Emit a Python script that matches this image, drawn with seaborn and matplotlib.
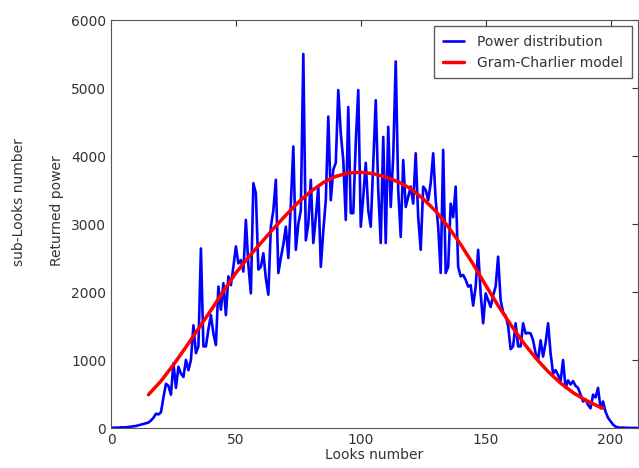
import numpy as np
import pandas as pd
import seaborn as sns
import matplotlib.pyplot as plt

# blue series: returned power per look
power = [0, 5, 5, 5, 10, 10, 10, 15, 20, 25,
         30, 40, 50, 60, 70, 80, 110, 150, 210, 200,
         230, 450, 650, 620, 490, 950, 590, 900, 800, 750,
         1000, 850, 1000, 1510, 1100, 1200, 2640, 1200, 1200, 1450,
         1660, 1390, 1220, 2080, 1740, 2130, 1660, 2230, 2100, 2370,
         2670, 2420, 2470, 2300, 3060, 2400, 1980, 3600, 3450, 2330,
         2370, 2570, 2200, 1960, 2960, 3200, 3650, 2280, 2500, 2700,
         2960, 2500, 3300, 4140, 2620, 3000, 3200, 5500, 2760, 3000,
         3650, 2720, 3100, 3550, 2370, 2900, 3350, 4580, 3350, 3800,
         3900, 4970, 4330, 3940, 3060, 4720, 3160, 3160, 4200, 4970,
         2960, 3400, 3900, 3200, 2960, 3900, 4820, 3500, 2720, 4280,
         2720, 4430, 3250, 4000, 5390, 3500, 2810, 3940, 3250, 3400,
         3550, 3300, 4040, 3100, 2620, 3550, 3500, 3350, 3600, 4040,
         3350, 2960, 2280, 4090, 2280, 2370, 3300, 3100, 3550, 2370,
         2230, 2250, 2180, 2080, 2100, 1800, 2080, 2620, 1980, 1540,
         1980, 1880, 1780, 1950, 2080, 2520, 1880, 1700, 1650, 1500,
         1160, 1200, 1540, 1200, 1200, 1540, 1390, 1400, 1390, 1290,
         1100, 1000, 1290, 1050, 1250, 1540, 1100, 800, 850, 780,
         690, 1000, 590, 700, 640, 690, 620, 590, 490, 390,
         420, 340, 290, 490, 450, 590, 290, 390, 240, 150,
         100, 50, 20, 10, 5, 5, 3, 2, 1, 1,
         0, 0]
looks = list(range(len(power)))

# red series: Gram-Charlier model
model_x = [15, 20, 25, 30, 35, 40, 45, 50, 55, 60, 65, 70, 75, 80, 85, 90, 95,
           100, 105, 110, 115, 120, 125, 130, 135, 140, 145, 150, 155, 160,
           165, 170, 175, 180, 185, 190, 195, 197]
model_y = [490, 690, 930, 1190, 1460, 1730, 2010, 2280, 2510, 2720, 2930, 3130,
           3320, 3480, 3610, 3700, 3750, 3760, 3740, 3690, 3620, 3520, 3370,
           3190, 2960, 2700, 2410, 2100, 1800, 1520, 1260, 1030, 830, 660,
           520, 410, 320, 290]

obs = pd.DataFrame({"look": looks, "power": power})
mod = pd.DataFrame({"look": model_x, "power": model_y})

sns.set_style("white")
plt.rcParams.update({
    "xtick.direction": "in", "ytick.direction": "in",
    "xtick.top": True, "ytick.right": True,
    "xtick.major.size": 4, "ytick.major.size": 4,
    "font.family": ["DejaVu Sans"],
})
txt = "#333333"
fs = 10

fig = plt.figure(figsize=(6.39, 4.68), dpi=100)
ax = fig.add_axes([111 / 639, 1 - 428 / 468, (638 - 111) / 639, (428 - 20) / 468])

sns.lineplot(data=obs, x="look", y="power", color="#0000ff", lw=1.9,
             label="Power distribution", ax=ax)
sns.lineplot(data=mod, x="look", y="power", color="#ff0000", lw=2.5,
             label="Gram-Charlier model", ax=ax)

ax.set_xlim(0, 211)
ax.set_ylim(0, 6000)
ax.set_xticks([0, 50, 100, 150, 200])
ax.set_yticks(range(0, 6001, 1000))
ax.tick_params(labelsize=fs, colors=txt, labelcolor=txt)
for s in ax.spines.values():
    s.set_color("#555555")
ax.set_xlabel("Looks number", fontsize=fs, color=txt, labelpad=1)
ax.set_ylabel("")
fig.text(57 / 639, 1 - 211 / 468, "Returned power", rotation=90,
         ha="center", va="center", fontsize=fs, color=txt)
fig.text(19 / 639, 1 - 202 / 468, "sub-Looks number", rotation=90,
         ha="center", va="center", fontsize=fs, color=txt)

leg = ax.legend(loc="upper right", fontsize=fs, frameon=True, fancybox=False,
                handlelength=1.5, handletextpad=1.0, labelspacing=0.5,
                borderpad=0.6, borderaxespad=0.45)
leg.get_frame().set_edgecolor("#333333")
for t in leg.get_texts():
    t.set_color(txt)

fig.savefig("out.png", dpi=100)
